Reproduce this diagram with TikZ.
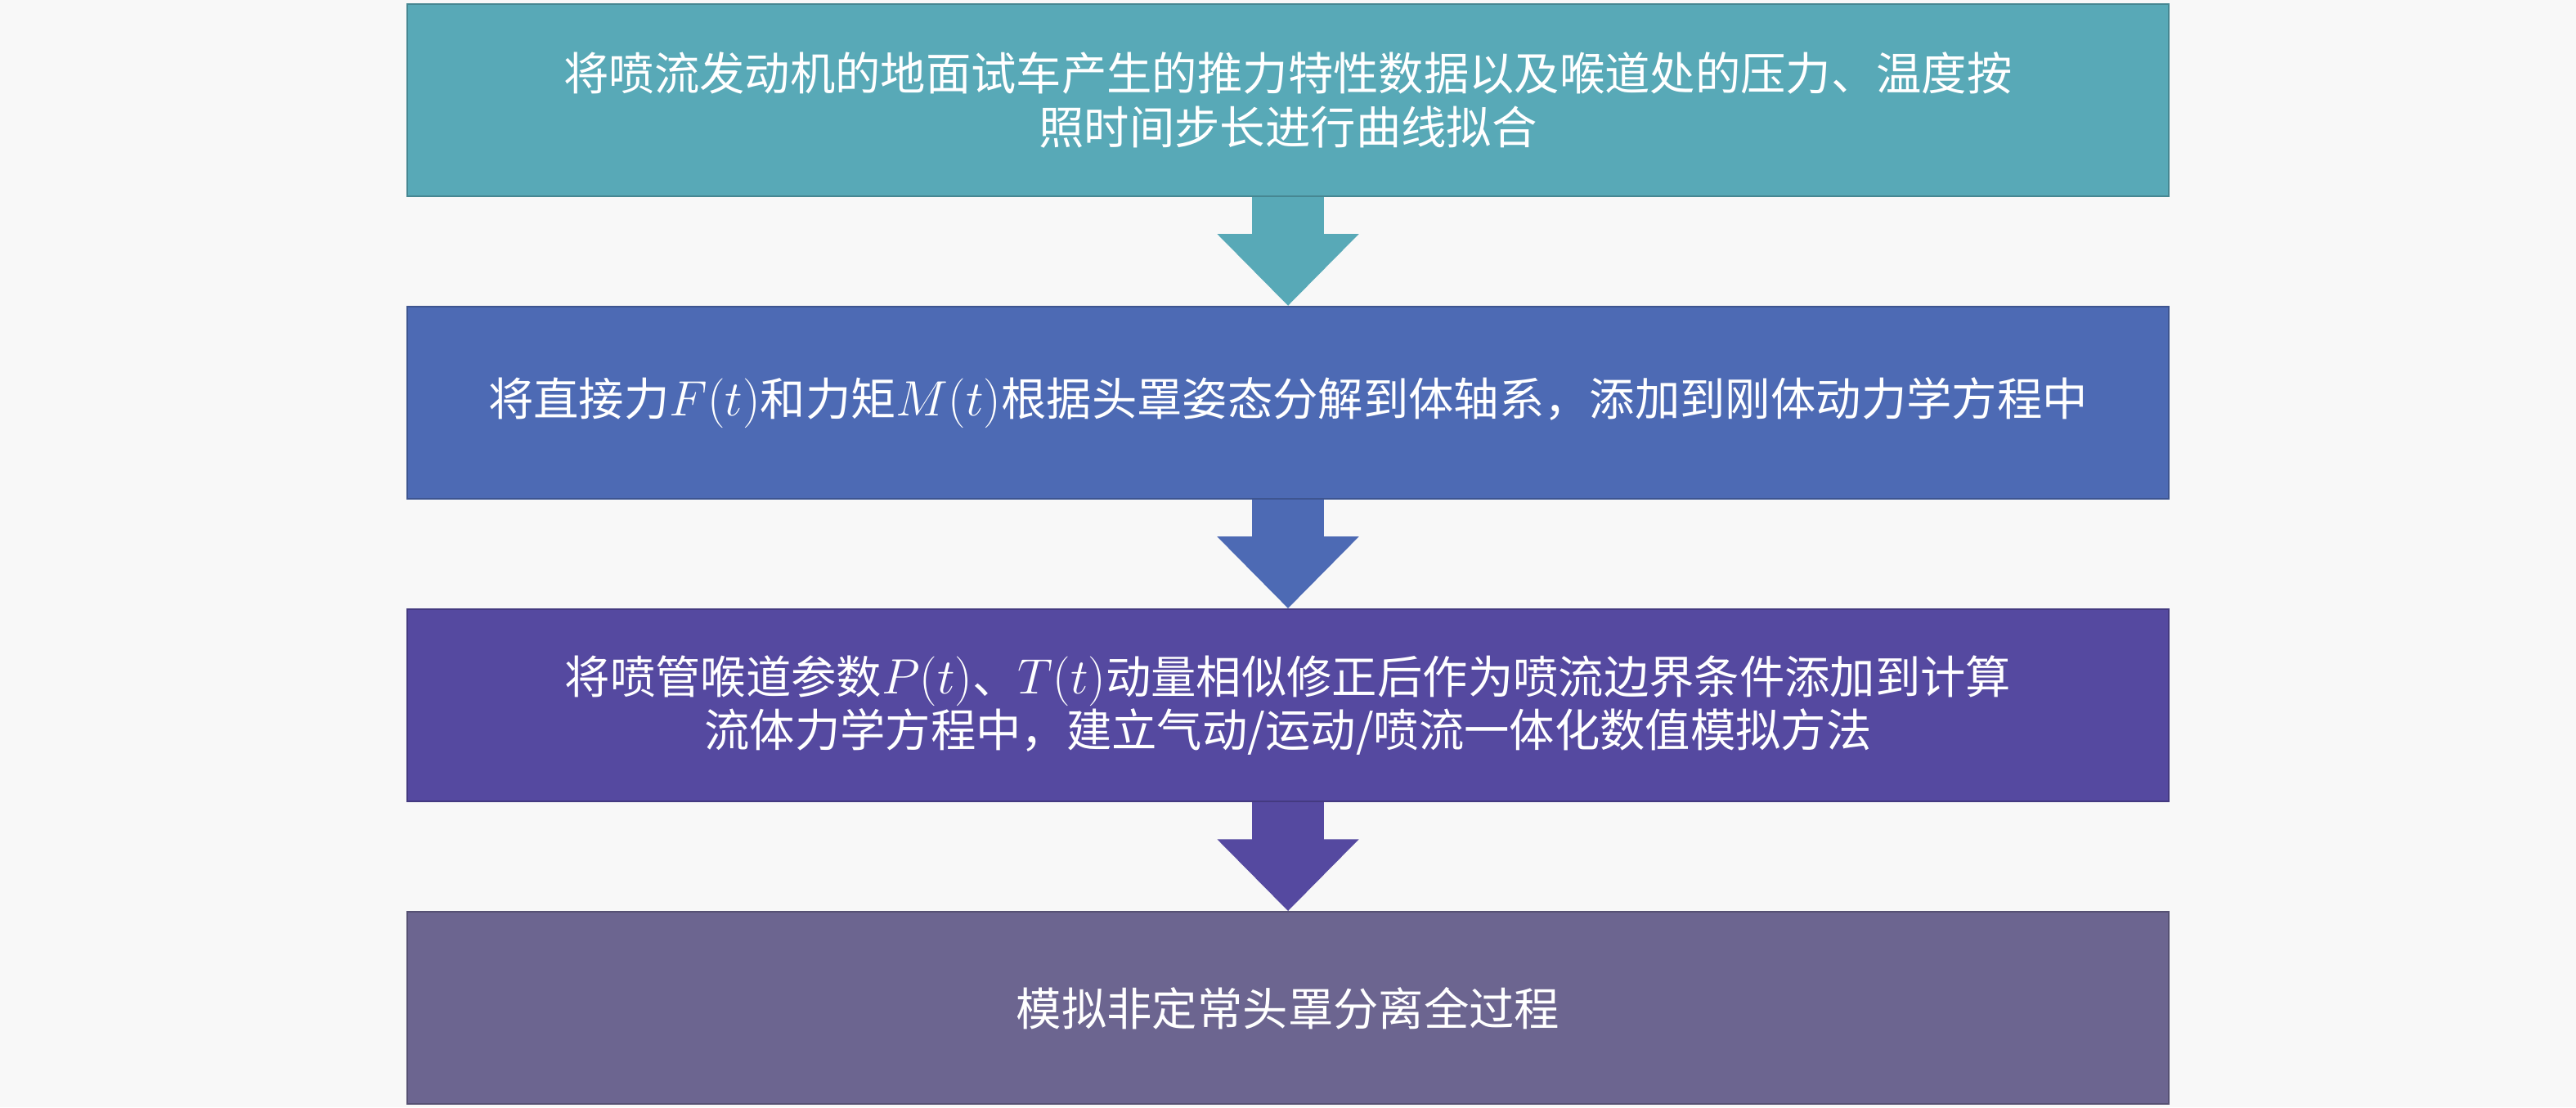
\documentclass[tikz,border=0pt]{standalone}
\usepackage{fontspec}
\newfontfamily\cjk{Noto Sans CJK SC}
\usepackage{amsmath}
\usetikzlibrary{positioning}
\usetikzlibrary{arrows.meta}

\definecolor{bggray}{RGB}{248,248,248}
\definecolor{stepA}{RGB}{88,169,183}
\definecolor{stepB}{RGB}{77,106,180}
\definecolor{stepC}{RGB}{85,73,160}
\definecolor{stepD}{RGB}{108,101,144}
\newcommand{\fn}[1]{{\fontsize{19}{18.6}\selectfont$#1$}}

\begin{document}
\begin{tikzpicture}[node distance=1.33cm,
    stage/.style={draw=#1!80!black, line width=0.6pt, fill=#1, rectangle,
      minimum width=21.54cm, minimum height=2.35cm, align=center,
      text=white, font=\cjk\fontsize{15.75}{18.6}\selectfont},
    flow/.style={draw=#1, line width=0.88cm,
      -{Triangle[width=1.68cm, length=0.88cm]}}]
            \fill[bggray] (0,0) rectangle (31.5,13.54);

            \node[stage=stepA] (1) at (15.75,12.315) {将喷流发动机的地面试车产生的推力特性数据以及喉道处的压力、温度按\\照时间步长进行曲线拟合};
            \node[stage=stepB, below=of 1] (2) {将直接力\fn{F(t)}和力矩\fn{M(t)}根据头罩姿态分解到体轴系，添加到刚体动力学方程中};
            \node[stage=stepC, below=of 2] (3) {将喷管喉道参数\fn{P(t)}、\fn{T(t)}动量相似修正后作为喷流边界条件添加到计算\\流体力学方程中，建立气动/运动/喷流一体化数值模拟方法};
            \node[stage=stepD, below=of 3] (4) {模拟非定常头罩分离全过程};

            \path
            (1.south) edge[flow=stepA] (2.north)
            (2.south) edge[flow=stepB] (3.north)
            (3.south) edge[flow=stepC] (4.north);
          \end{tikzpicture}
\end{document}
